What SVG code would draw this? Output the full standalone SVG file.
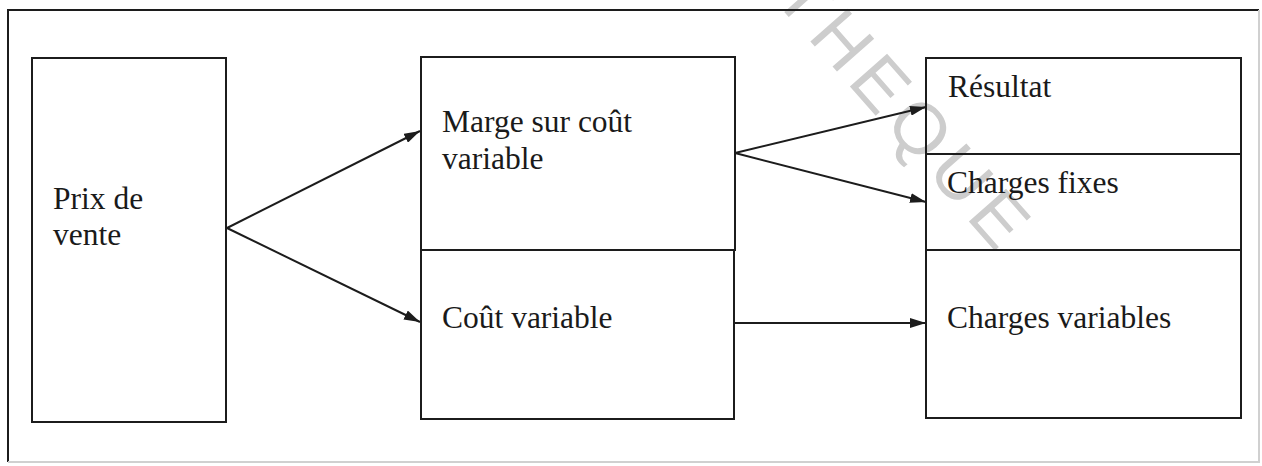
<svg xmlns="http://www.w3.org/2000/svg" width="1262" height="466" viewBox="0 0 1262 466">
  <style>
    .box { fill: none; stroke: #1c1c1c; stroke-width: 2; }
    .lbl { font-size: 31.5px; fill: #1a1a1a; }
    .edge { stroke: #1c1c1c; stroke-width: 2; fill: none; }
    .wm { font-size: 72px; fill: #cdcdcd; letter-spacing: 8px; }
  </style>
  <defs>
    <marker id="arrow" viewBox="0 0 16 10" refX="16" refY="5" markerWidth="16" markerHeight="10" markerUnits="userSpaceOnUse" orient="auto">
      <path d="M0,0 L16,5 L0,10 Z" fill="#1c1c1c"/>
    </marker>
  </defs>

  <rect width="1262" height="466" fill="#ffffff"/>

  <!-- watermark -->
  <text class="wm" font-family="Liberation Sans, Arial, sans-serif" x="772" y="-2" transform="rotate(48.6 772 -2)">THEQUE</text>

  <!-- outer frame -->
  <g id="frame">
    <path d="M8,462 L8,10 L1259,10" fill="none" stroke="#1c1c1c" stroke-width="2"/>
    <path d="M8,462 L1259,462 L1259,10" fill="none" stroke="#d0d0d0" stroke-width="2"/>
  </g>

  <g id="prix-de-vente" font-family="Liberation Serif, Times New Roman, DejaVu Serif, serif">
    <rect class="box" x="32" y="58" width="194" height="364"/>
    <text class="lbl" x="53" y="209">Prix de</text>
    <text class="lbl" x="53" y="245">vente</text>
  </g>

  <g id="marge-sur-cout-variable" font-family="Liberation Serif, Times New Roman, DejaVu Serif, serif">
    <rect class="box" x="421" y="57" width="314" height="193"/>
    <text class="lbl" x="442" y="132">Marge sur coût</text>
    <text class="lbl" x="442" y="169">variable</text>
  </g>

  <g id="cout-variable" font-family="Liberation Serif, Times New Roman, DejaVu Serif, serif">
    <rect class="box" x="421" y="250" width="313" height="169"/>
    <text class="lbl" x="442" y="328">Coût variable</text>
  </g>

  <g id="resultat" font-family="Liberation Serif, Times New Roman, DejaVu Serif, serif">
    <rect class="box" x="926" y="58" width="315" height="96"/>
    <text class="lbl" x="948" y="97">Résultat</text>
  </g>

  <g id="charges-fixes" font-family="Liberation Serif, Times New Roman, DejaVu Serif, serif">
    <rect class="box" x="926" y="154" width="315" height="96"/>
    <text class="lbl" x="947" y="193">Charges fixes</text>
  </g>

  <g id="charges-variables" font-family="Liberation Serif, Times New Roman, DejaVu Serif, serif">
    <rect class="box" x="926" y="250" width="315" height="168"/>
    <text class="lbl" x="947" y="328">Charges variables</text>
  </g>

  <g id="connectors">
    <line class="edge" x1="227" y1="228" x2="420" y2="131" marker-end="url(#arrow)"/>
    <line class="edge" x1="227" y1="228" x2="420" y2="322" marker-end="url(#arrow)"/>
    <line class="edge" x1="735" y1="153" x2="926" y2="107" marker-end="url(#arrow)"/>
    <line class="edge" x1="735" y1="153" x2="926" y2="202" marker-end="url(#arrow)"/>
    <line class="edge" x1="735" y1="323" x2="926" y2="323" marker-end="url(#arrow)"/>
  </g>
</svg>
